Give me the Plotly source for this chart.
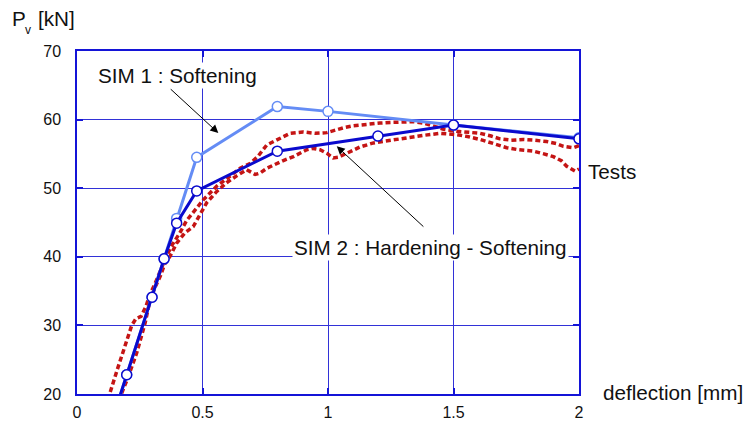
import plotly.graph_objects as go

# ---- data ----
sim2_x = [0.15, 0.198, 0.299, 0.347, 0.397, 0.477, 0.798, 1.199, 1.5, 2.0]
sim2_y = [17.3, 22.8, 34.1, 39.7, 44.9, 49.6, 55.4, 57.6, 59.2, 57.2]

sim1_x = [0.15, 0.198, 0.299, 0.347, 0.397, 0.477, 0.798, 1.0, 1.5, 2.0]
sim1_y = [17.3, 22.8, 34.1, 39.7, 45.6, 54.5, 61.9, 61.2, 59.2, 57.35]

testA_x = [0.12, 0.13, 0.16, 0.19, 0.218, 0.235, 0.255, 0.275, 0.29, 0.31, 0.33, 0.355,
           0.38, 0.41, 0.437, 0.47, 0.503, 0.53, 0.557, 0.59, 0.623, 0.65, 0.689, 0.72,
           0.756, 0.782, 0.81, 0.849, 0.9, 0.95, 0.995, 1.03, 1.061, 1.1, 1.15, 1.207,
           1.26, 1.34, 1.38, 1.42, 1.46, 1.513, 1.56, 1.606, 1.65, 1.685, 1.73, 1.778,
           1.82, 1.871, 1.91, 1.938, 1.977, 2.0]
testA_y = [18.0, 20.0, 23.5, 27.0, 30.0, 31.0, 31.3, 32.8, 34.5, 36.0, 37.8, 40.0,
           41.8, 43.5, 45.3, 46.8, 48.3, 49.3, 50.3, 51.2, 52.2, 52.9, 53.6, 54.6,
           56.3, 56.8, 57.3, 58.0, 58.2, 58.0, 58.1, 58.5, 58.8, 59.1, 59.3, 59.5,
           59.6, 59.7, 59.5, 59.0, 58.6, 58.3, 58.2, 58.0, 57.6, 57.2, 57.0, 57.1,
           57.0, 56.8, 56.5, 56.1, 55.9, 56.2]

testB_x = [0.15, 0.178, 0.205, 0.238, 0.271, 0.29, 0.31, 0.331, 0.35, 0.371, 0.397, 0.43,
           0.463, 0.49, 0.517, 0.556, 0.596, 0.636, 0.676, 0.71, 0.729, 0.756, 0.782, 0.82,
           0.862, 0.915, 0.941, 0.968, 0.995, 1.021, 1.04, 1.075, 1.127, 1.181, 1.25, 1.313,
           1.38, 1.446, 1.513, 1.56, 1.606, 1.66, 1.712, 1.76, 1.818, 1.86, 1.898, 1.93,
           1.951, 1.984, 2.0]
testB_y = [18.0, 20.1, 22.6, 26.0, 30.3, 33.5, 35.5, 37.1, 39.0, 40.1, 42.0, 43.5,
           44.4, 46.2, 47.9, 49.5, 50.8, 51.8, 52.7, 52.0, 52.2, 52.9, 53.4, 54.0,
           54.6, 55.6, 55.8, 55.6, 55.1, 54.4, 54.5, 55.1, 56.0, 56.6, 57.0, 57.3,
           57.7, 58.0, 57.8, 57.5, 57.1, 56.5, 55.9, 55.6, 55.4, 55.0, 54.6, 54.0,
           53.2, 52.5, 52.8]

x_ticks = [0, 0.5, 1, 1.5, 2]
x_tick_labels = ["0", "0.5", "1", "1.5", "2"]
y_ticks = [20, 30, 40, 50, 60, 70]

# ---- layout geometry ----
W, H = 743, 421
ML, MR, MT, MB = 77, 164, 51, 27
PW, PH = W - ML - MR, H - MT - MB


def px(xp):
    return (xp - ML) / PW


def py(yp):
    return (H - MB - yp) / PH


FONT = "Liberation Sans, Arial, sans-serif"
BLUE_AX = "rgb(20,20,215)"
GRID = "rgb(50,50,215)"
RED = "#c41414"
DARK = "rgb(10,10,205)"
LIGHT = "rgb(100,140,245)"
TXT = 20.7

fig = go.Figure()

red_line = dict(color=RED, width=3.5, dash="5px,3px")
fig.add_trace(go.Scatter(x=testA_x, y=testA_y, mode="lines", line=red_line, showlegend=False))
fig.add_trace(go.Scatter(x=testB_x, y=testB_y, mode="lines", line=red_line, showlegend=False))

fig.add_trace(go.Scatter(
    x=sim1_x, y=sim1_y, mode="lines+markers",
    line=dict(color=LIGHT, width=3),
    marker=dict(symbol="circle", size=10, color="white", line=dict(color=LIGHT, width=1.5)),
    showlegend=False))
fig.add_trace(go.Scatter(
    x=sim2_x, y=sim2_y, mode="lines+markers",
    line=dict(color=DARK, width=3),
    marker=dict(symbol="circle", size=10, color="white", line=dict(color=DARK, width=1.5)),
    showlegend=False))

annotations = [
    # arrows
    dict(x=0.563, y=58.05, ax=0.367, ay=64.65, xref="x", yref="y", axref="x", ayref="y",
         text="", showarrow=True, arrowhead=2, arrowsize=1.6, arrowwidth=1, arrowcolor="black"),
    dict(x=1.035, y=56.1, ax=1.386, ay=44.2, xref="x", yref="y", axref="x", ayref="y",
         text="", showarrow=True, arrowhead=2, arrowsize=1.6, arrowwidth=1, arrowcolor="black"),
    # labels
    dict(x=px(96), y=py(75), xref="paper", yref="paper", xanchor="left", yanchor="middle",
         text="SIM 1 : Softening", showarrow=False, bgcolor="white",
         font=dict(family=FONT, size=TXT, color="#111")),
    dict(x=px(292), y=py(247), xref="paper", yref="paper", xanchor="left", yanchor="middle",
         text="SIM 2 : Hardening - Softening", showarrow=False, bgcolor="white",
         font=dict(family=FONT, size=TXT, color="#111")),
    dict(x=px(586), y=py(171), xref="paper", yref="paper", xanchor="left", yanchor="middle",
         text="Tests", showarrow=False,
         font=dict(family=FONT, size=TXT, color="#111")),
    dict(x=px(601), y=py(392), xref="paper", yref="paper", xanchor="left", yanchor="middle",
         text="deflection [mm]", showarrow=False,
         font=dict(family=FONT, size=TXT, color="#111")),
    dict(x=px(10), y=py(18), xref="paper", yref="paper", xanchor="left", yanchor="middle",
         text="P", showarrow=False, font=dict(family=FONT, size=TXT, color="#111")),
    dict(x=px(23), y=py(30), xref="paper", yref="paper", xanchor="left", yanchor="middle",
         text="v", showarrow=False, font=dict(family=FONT, size=12, color="#111")),
    dict(x=px(36), y=py(18), xref="paper", yref="paper", xanchor="left", yanchor="middle",
         text="[kN]", showarrow=False, font=dict(family=FONT, size=TXT, color="#111")),
]

fig.update_layout(
    width=W, height=H,
    margin=dict(l=ML, r=MR, t=MT, b=MB, pad=0, autoexpand=False),
    paper_bgcolor="white", plot_bgcolor="white",
    annotations=annotations,
    showlegend=False,
)

fig.update_xaxes(
    range=[0, 2], tickvals=x_ticks, ticktext=x_tick_labels,
    showgrid=True, gridcolor=GRID, gridwidth=1,
    showline=True, linecolor=BLUE_AX, linewidth=1.5, mirror="ticks",
    ticks="inside", ticklen=6, tickcolor=BLUE_AX, tickwidth=1.5,
    ticklabelstandoff=3, automargin=False,
    zeroline=False, tickfont=dict(family=FONT, size=16, color="#111"),
)
fig.update_yaxes(
    range=[20, 70], tickvals=y_ticks,
    showgrid=True, gridcolor=GRID, gridwidth=1,
    showline=True, linecolor=BLUE_AX, linewidth=1.5, mirror="ticks",
    ticks="inside", ticklen=6, tickcolor=BLUE_AX, tickwidth=1.5,
    ticklabelstandoff=11, automargin=False,
    zeroline=False, tickfont=dict(family=FONT, size=16, color="#111"),
)

fig.write_html("out.html")
